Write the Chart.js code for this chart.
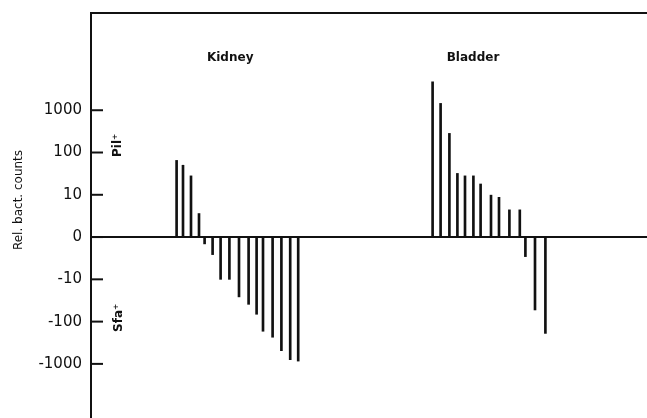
<!DOCTYPE html>
<html>
<head>
<meta charset="utf-8">
<script src="https://cdn.jsdelivr.net/npm/chart.js@4.4.0/dist/chart.umd.min.js"></script>
<style>
  html, body { margin: 0; padding: 0; background: #fff; }
  #wrap { width: 647px; height: 418px; }
</style>
</head>
<body>
<div id="wrap"><canvas id="chart"></canvas></div>
<script>
// bar positions along the (unlabelled) x axis, and relative counts
const kidneyPos    = [10.7, 11.5, 12.5, 13.5, 14.2, 15.2, 16.2, 17.3, 18.5, 19.7, 20.7, 21.5, 22.7, 23.8, 24.9, 25.9];
const kidneyCounts = [65, 50, 28, 3.6, -1.45, -2.6, -10, -10, -26, -39, -67, -169, -234, -487, -794, -858];

const bladderPos    = [42.7, 43.7, 44.8, 45.8, 46.75, 47.8, 48.7, 50.0, 51.0, 52.3, 53.6, 54.3, 55.5, 56.8];
const bladderCounts = [4700, 1450, 283, 32, 28, 28, 18, 9.8, 8.7, 4.4, 4.4, -2.9, -53, -190];

// y ticks in decades (0, +-10, +-100, +-1000)
const yTickDecades = [-3, -2, -1, 0, 1, 2, 3];

function toDecades(v){
  if(v === 0) return 0;
  return Math.sign(v) * Math.log10(Math.abs(v));
}

function decadeLabel(d){
  if(d === 0) return '0';
  return (d < 0 ? '-' : '') + Math.pow(10, Math.abs(d));
}

function makePoints(pos, counts){
  return pos.map((p, i) => ({x: p, y: toDecades(counts[i])}));
}

const annotate = {
  id: 'annotate',
  afterDraw(chart){
    const {ctx, chartArea, scales: {x, y}} = chart;
    ctx.save();
    // tick marks point into the plot
    ctx.strokeStyle = '#111';
    ctx.lineWidth = 2;
    y.ticks.forEach(t => {
      const py = y.getPixelForValue(t.value);
      ctx.beginPath();
      ctx.moveTo(chartArea.left, py);
      ctx.lineTo(chartArea.left + 12, py);
      ctx.stroke();
    });

    ctx.fillStyle = '#111';
    ctx.textAlign = 'center';
    ctx.textBaseline = 'middle';
    ctx.font = 'bold 12px "DejaVu Sans"';
    ctx.fillText('Kidney', x.getPixelForValue(17.4), y.getPixelForValue(4.23));
    ctx.fillText('Bladder', x.getPixelForValue(47.75), y.getPixelForValue(4.23));

    // rotated labels
    const rot = (txt, px, py, font) => {
      ctx.save();
      ctx.translate(px, py);
      ctx.rotate(-Math.PI / 2);
      ctx.font = font;
      ctx.fillText(txt, 0, 0);
      ctx.restore();
    };
    rot('Pil\u207A', x.getPixelForValue(3.3), y.getPixelForValue(2.17), 'bold 12px "DejaVu Sans"');
    rot('Sfa\u207A', x.getPixelForValue(3.5), y.getPixelForValue(-1.91), 'bold 12px "DejaVu Sans"');
    rot('Rel. bact. counts', 19, 200, '12px "DejaVu Sans"');
    ctx.restore();
  }
};

new Chart(document.getElementById('chart'), {
  type: 'bar',
  data: {
    datasets: [
      {label: 'Kidney', data: makePoints(kidneyPos, kidneyCounts), backgroundColor: '#111', barThickness: 2, grouped: false},
      {label: 'Bladder', data: makePoints(bladderPos, bladderCounts), backgroundColor: '#111', barThickness: 2, grouped: false}
    ]
  },
  options: {
    responsive: true,
    maintainAspectRatio: false,
    animation: false,
    layout: { autoPadding: false, padding: {top: 13, left: 0, right: 0, bottom: 0} },
    plugins: {
      legend: { display: false },
      tooltip: { enabled: false }
    },
    scales: {
      x: {
        type: 'linear',
        position: 'top',
        min: 0,
        max: 69.5,
        offset: false,
        afterFit: s => { s.height = 0; s.paddingLeft = 0; s.paddingRight = 0; },
        ticks: { display: false },
        grid: { display: false },
        border: { display: true, color: '#111', width: 2 }
      },
      y: {
        min: -4.28,
        max: 5.3,
        afterBuildTicks: s => { s.ticks = yTickDecades.map(v => ({value: v})); },
        afterFit: s => { s.width = 91; s.paddingTop = 0; s.paddingBottom = 0; },
        ticks: {
          callback: v => decadeLabel(v),
          font: { family: 'DejaVu Sans', size: 15 },
          color: '#111',
          padding: 9
        },
        grid: {
          drawTicks: false,
          lineWidth: 2,
          color: c => (c.tick && c.tick.value === 0) ? '#111' : 'rgba(0,0,0,0)'
        },
        border: { display: true, color: '#111', width: 2 }
      }
    }
  },
  plugins: [annotate]
});
</script>
</body>
</html>
